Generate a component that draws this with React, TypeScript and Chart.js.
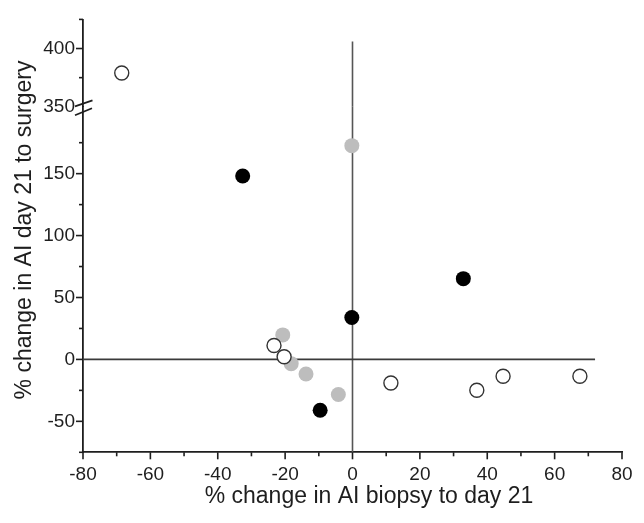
import React, { useEffect, useRef } from 'react';
import { Chart, registerables } from 'chart.js';

Chart.register(...registerables);

// ---- data ----
const OPEN_UPPER_X = [-68.5];
const OPEN_UPPER_Y = [379];
const OPEN_X = [-23.3, -20.3, 11.4, 36.9, 44.7, 67.5];
const OPEN_Y = [11.2, 2.2, -19.0, -24.9, -13.6, -13.6];
const BLACK_X = [-32.6, -0.2, 32.9, -9.6];
const BLACK_Y = [148.1, 33.9, 65.2, -41.1];
const GREY_X = [-0.2, -20.7, -18.2, -13.8, -4.2];
const GREY_Y = [172.6, 19.8, -3.4, -11.8, -28.3];

// reference lines
const H_LINE_X = [-80, 72];
const H_LINE_Y = [0, 0];
const V_LOWER_X = [0, 0];
const V_LOWER_Y = [-75, 212];
const V_UPPER_X = [0, 0];
const V_UPPER_Y = [345, 406];

// axes
const X_MIN = -80;
const X_MAX = 80;
const X_TICKS = [-80, -70, -60, -50, -40, -30, -20, -10, 0, 10, 20, 30, 40, 50, 60, 70, 80];
const X_LABELED = [-80, -60, -40, -20, 0, 20, 40, 60, 80];
const Y_LOWER_MIN = -75;
const Y_LOWER_MAX = 204;
const Y_LOWER_TICKS = [-75, -50, -25, 0, 25, 50, 75, 100, 125, 150, 175];
const Y_LOWER_LABELED = [-50, 0, 50, 100, 150];
const Y_UPPER_MIN = 350;
const Y_UPPER_MAX = 425;
const Y_UPPER_TICKS = [350, 375, 400, 425];
const Y_UPPER_LABELED = [350, 400];

const X_TITLE = '% change in AI biopsy to day 21';
const Y_TITLE = '% change in AI day 21 to surgery';

const FONT = '"Liberation Sans", Arial, Helvetica, sans-serif';
const INK = '#1e1e1e';

const pts = (xs: number[], ys: number[]) => xs.map((x, i) => ({ x, y: ys[i] }));

const decorPlugin = {
  id: 'decor',
  afterDraw(chart: any) {
    const ctx = chart.ctx as CanvasRenderingContext2D;
    const xs = chart.scales.x;
    const yl = chart.scales.y;
    const yu = chart.scales.y2;
    const area = chart.chartArea;
    ctx.save();
    ctx.strokeStyle = INK;
    ctx.lineWidth = 1.6;
    const seg = (x1: number, y1: number, x2: number, y2: number) => {
      ctx.beginPath();
      ctx.moveTo(x1, y1);
      ctx.lineTo(x2, y2);
      ctx.stroke();
    };
    const axisY = area.bottom;
    X_TICKS.forEach((v) => {
      const px = xs.getPixelForValue(v);
      const len = X_LABELED.includes(v) ? 7 : 4;
      seg(px, axisY, px, axisY + len);
    });
    const axisX = area.left;
    Y_LOWER_TICKS.forEach((v) => {
      const py = yl.getPixelForValue(v);
      const len = Y_LOWER_LABELED.includes(v) ? 7 : 4;
      seg(axisX - len, py, axisX, py);
    });
    Y_UPPER_TICKS.forEach((v) => {
      if (v === Y_UPPER_MIN) return;
      const py = yu.getPixelForValue(v);
      const len = Y_UPPER_LABELED.includes(v) ? 7 : 4;
      seg(axisX - len, py, axisX, py);
    });
    // axis break marks
    const by = yu.getPixelForValue(Y_UPPER_MIN);
    ctx.lineWidth = 1.8;
    seg(axisX - 8, by - 0.5, axisX + 9.5, by - 6.5);
    seg(axisX - 8, by + 8.5, axisX + 9, by + 1.5);
    // titles
    ctx.fillStyle = INK;
    ctx.font = `23px ${FONT}`;
    ctx.textAlign = 'center';
    ctx.textBaseline = 'middle';
    ctx.fillText(X_TITLE, 369, 497);
    ctx.translate(25, 230);
    ctx.rotate(-Math.PI / 2);
    ctx.fillText(Y_TITLE, 0, 0);
    ctx.restore();
  },
};

export default function App() {
  const ref = useRef<HTMLCanvasElement | null>(null);
  useEffect(() => {
    if (!ref.current) return;
    const tickFont = { family: FONT, size: 19 };
    const chart = new Chart(ref.current, {
      type: 'scatter',
      data: {
        datasets: [
          {
            label: 'open upper',
            data: pts(OPEN_UPPER_X, OPEN_UPPER_Y),
            yAxisID: 'y2',
            pointRadius: 7,
            pointBackgroundColor: '#ffffff',
            pointBorderColor: '#333333',
            pointBorderWidth: 1.4,
            order: 0,
          },
          {
            label: 'open',
            data: pts(OPEN_X, OPEN_Y),
            yAxisID: 'y',
            pointRadius: 7,
            pointBackgroundColor: '#ffffff',
            pointBorderColor: '#333333',
            pointBorderWidth: 1.4,
            order: 0,
          },
          {
            label: 'black',
            data: pts(BLACK_X, BLACK_Y),
            yAxisID: 'y',
            pointRadius: 7.5,
            pointBackgroundColor: '#000000',
            pointBorderColor: '#000000',
            pointBorderWidth: 0,
            order: 1,
          },
          {
            label: 'grey',
            data: pts(GREY_X, GREY_Y),
            yAxisID: 'y',
            pointRadius: 7.5,
            pointBackgroundColor: '#bdbdbd',
            pointBorderColor: '#bdbdbd',
            pointBorderWidth: 0,
            order: 2,
          },
          {
            label: 'h0',
            data: pts(H_LINE_X, H_LINE_Y),
            yAxisID: 'y',
            showLine: true,
            pointRadius: 0,
            borderColor: '#3a3a3a',
            borderWidth: 1.6,
            order: 10,
          },
          {
            label: 'v0 lower',
            data: pts(V_LOWER_X, V_LOWER_Y),
            yAxisID: 'y',
            showLine: true,
            pointRadius: 0,
            borderColor: '#555555',
            borderWidth: 1.6,
            order: 10,
          },
          {
            label: 'v0 upper',
            data: pts(V_UPPER_X, V_UPPER_Y),
            yAxisID: 'y2',
            showLine: true,
            pointRadius: 0,
            borderColor: '#555555',
            borderWidth: 1.6,
            order: 10,
          },
        ],
      },
      options: {
        animation: false,
        responsive: false,
        events: [],
        layout: { padding: { left: 0, right: 22, top: 16, bottom: 0 } },
        plugins: { legend: { display: false }, tooltip: { enabled: false } },
        scales: {
          x: {
            type: 'linear',
            min: X_MIN,
            max: X_MAX,
            grid: { display: false, drawTicks: false },
            border: { display: true, color: INK, width: 1.8 },
            afterBuildTicks: (s: any) => {
              s.ticks = X_TICKS.map((v) => ({ value: v }));
            },
            afterFit: (s: any) => {
              s.height = 70.7;
            },
            ticks: {
              autoSkip: false,
              maxRotation: 0,
              padding: 11,
              color: INK,
              font: tickFont,
              callback: (v: any) => (X_LABELED.includes(Number(v)) ? String(v) : ''),
            },
          },
          y: {
            type: 'linear',
            position: 'left',
            stack: 'ys',
            stackWeight: 348,
            min: Y_LOWER_MIN,
            max: Y_LOWER_MAX,
            grid: { display: false, drawTicks: false },
            border: { display: true, color: INK, width: 1.8 },
            afterBuildTicks: (s: any) => {
              s.ticks = Y_LOWER_TICKS.map((v) => ({ value: v }));
            },
            afterFit: (s: any) => {
              s.width = 83;
            },
            ticks: {
              autoSkip: false,
              padding: 8,
              color: INK,
              font: tickFont,
              callback: (v: any) => (Y_LOWER_LABELED.includes(Number(v)) ? String(v) : ''),
            },
          },
          y2: {
            type: 'linear',
            position: 'left',
            stack: 'ys',
            stackWeight: 88,
            min: Y_UPPER_MIN,
            max: Y_UPPER_MAX,
            grid: { display: false, drawTicks: false },
            border: { display: true, color: INK, width: 1.8 },
            afterBuildTicks: (s: any) => {
              s.ticks = Y_UPPER_TICKS.map((v) => ({ value: v }));
            },
            afterFit: (s: any) => {
              s.width = 83;
            },
            ticks: {
              autoSkip: false,
              padding: 8,
              color: INK,
              font: tickFont,
              callback: (v: any) => (Y_UPPER_LABELED.includes(Number(v)) ? String(v) : ''),
            },
          },
        },
      },
      plugins: [decorPlugin],
    } as any);
    return () => chart.destroy();
  }, []);
  return (
    <div style={{ position: 'absolute', left: 0, top: 0, width: 644, height: 523, background: '#fff' }}>
      <canvas ref={ref} width={644} height={523} style={{ display: 'block', width: 644, height: 523 }} />
    </div>
  );
}
